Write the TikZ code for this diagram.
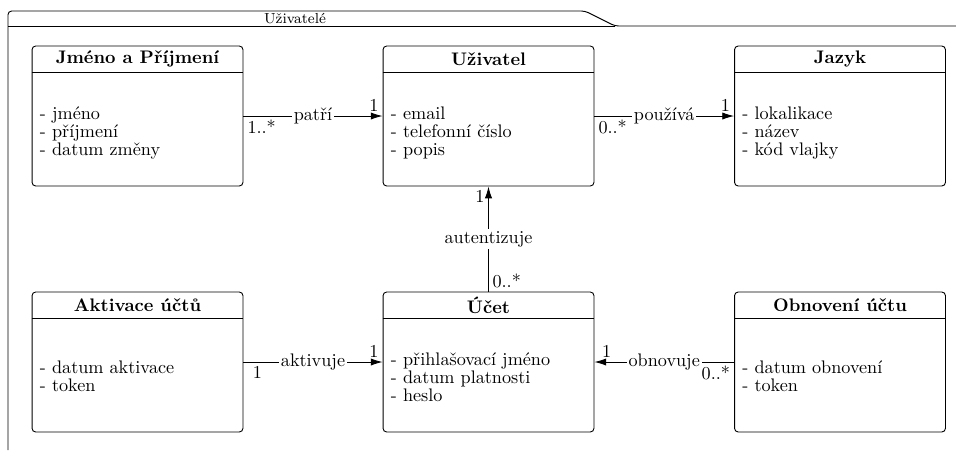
\documentclass[tikz,border=0pt]{standalone}
\usepackage{fontspec}
\usepackage{tikz}
\usetikzlibrary{arrows.meta, positioning}
\tikzset{
    classbox/.style={rectangle, rounded corners=2pt, draw, line width=0.5pt,
                     minimum width=116pt, minimum height=77pt, inner sep=0pt},
    classtitle/.style={font=\bfseries, inner sep=0pt},
    classattrs/.style={align=left, anchor=west, inner sep=0pt,
                       font=\fontsize{10}{10}\selectfont},
    assoc/.style={-{Latex[length=6.5pt,width=4pt]}, line width=0.5pt},
    assoclabel/.style={fill=white, inner sep=1pt},
    mult/.style={inner sep=2pt},
    pkgframe/.style={line width=0.5pt}
}

\begin{document}
\begin{tikzpicture}[x=0.55pt, y=-0.55pt]
    \useasboundingbox (0,0) rectangle (956,450);

    % Package frame
    \draw[pkgframe, rounded corners=2pt] (8,450) -- (8,11) -- (585,11) -- (615,26) -- (956,26);
    \draw[pkgframe] (8,26) -- (615,26);
    \node[font=\footnotesize, inner sep=0pt] (pkgname) at (295,18.5) {Uživatelé};

    % Upper row
    \node[classbox] (jmeno) at (137.5,116) {};
    \draw[line width=0.5pt] ([yshift=-14.85pt]jmeno.north west) -- ([yshift=-14.85pt]jmeno.north east);
    \node[classtitle] (jmenotitle) at ([yshift=-7.4pt]jmeno.north) {Jméno a Příjmení};
    \node[classattrs] (jmenoattrs) at ([xshift=4.4pt, yshift=-9.4pt]jmeno.west) {
        - jméno\\- příjmení\\- datum změny};

    \node[classbox] (uziv) at (488.5,116) {};
    \draw[line width=0.5pt] ([yshift=-14.85pt]uziv.north west) -- ([yshift=-14.85pt]uziv.north east);
    \node[classtitle] (uzivtitle) at ([yshift=-7.4pt]uziv.north) {Uživatel};
    \node[classattrs] (uzivattrs) at ([xshift=4.4pt, yshift=-9.4pt]uziv.west) {
        - email\\- telefonní číslo\\- popis};

    \node[classbox] (jazyk) at (840,116) {};
    \draw[line width=0.5pt] ([yshift=-14.85pt]jazyk.north west) -- ([yshift=-14.85pt]jazyk.north east);
    \node[classtitle] (jazyktitle) at ([yshift=-7.4pt]jazyk.north) {Jazyk};
    \node[classattrs] (jazykattrs) at ([xshift=4.4pt, yshift=-9.4pt]jazyk.west) {
        - lokalikace\\- název\\- kód vlajky};

    % Lower row
    \node[classbox] (aktivace) at (137.5,362) {};
    \draw[line width=0.5pt] ([yshift=-14.85pt]aktivace.north west) -- ([yshift=-14.85pt]aktivace.north east);
    \node[classtitle] (aktivacetitle) at ([yshift=-7.4pt]aktivace.north) {Aktivace účtů};
    \node[classattrs] (aktivaceattrs) at ([xshift=4.4pt, yshift=-8pt]aktivace.west) {
        - datum aktivace\\- token};

    \node[classbox] (ucet) at (488.5,362) {};
    \draw[line width=0.5pt] ([yshift=-14.85pt]ucet.north west) -- ([yshift=-14.85pt]ucet.north east);
    \node[classtitle] (ucettitle) at ([yshift=-7.4pt]ucet.north) {Účet};
    \node[classattrs] (ucetattrs) at ([xshift=4.4pt, yshift=-8.5pt]ucet.west) {
        - přihlašovací jméno\\- datum platnosti\\- heslo};

    \node[classbox] (obnova) at (840,362) {};
    \draw[line width=0.5pt] ([yshift=-14.85pt]obnova.north west) -- ([yshift=-14.85pt]obnova.north east);
    \node[classtitle] (obnovatitle) at ([yshift=-7.4pt]obnova.north) {Obnovení účtu};
    \node[classattrs] (obnovaattrs) at ([xshift=4.4pt, yshift=-8pt]obnova.west) {
        - datum obnovení\\- token};

    % Associations
    \draw[assoc] (jmeno.east) -- node[assoclabel] {patří}
        node[mult, pos=0, below right] {1..*} node[mult, pos=1, above left] {1} (uziv.west);
    \draw[assoc] (uziv.east) -- node[assoclabel] {používá}
        node[mult, pos=0, below right] {0..*} node[mult, pos=1, above left] {1} (jazyk.west);
    \draw[assoc] (ucet.north) -- node[assoclabel] {autentizuje}
        node[mult, pos=0, above right] {0..*} node[mult, pos=1, below left] {1} (uziv.south);
    \draw[assoc] (aktivace.east) -- node[assoclabel] {aktivuje}
        node[mult, pos=0, below right, xshift=3pt] {1} node[mult, pos=1, above left] {1} (ucet.west);
    \draw[assoc] (obnova.west) -- node[assoclabel] {obnovuje}
        node[mult, pos=0, below left] {0..*} node[mult, pos=1, above right, xshift=2pt] {1} (ucet.east);
\end{tikzpicture}
\end{document}
